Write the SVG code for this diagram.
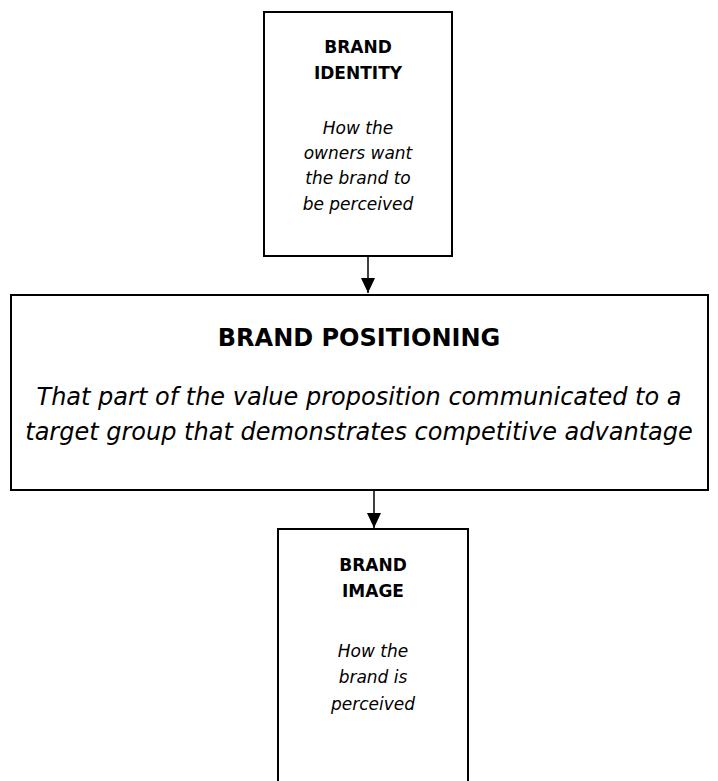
<svg xmlns="http://www.w3.org/2000/svg" width="718" height="781" viewBox="0 0 718 781">
<style>
.box{fill:#fff;stroke:#000;stroke-width:2}
.t{font-family:"DejaVu Sans",Verdana,sans-serif;font-size:17px;text-anchor:middle;fill:#000}
.l{font-size:24px}
.b{font-weight:bold}
.i{font-style:italic}
.c{stroke:#000;stroke-width:1.5;fill:none}
</style>
<defs>
<marker id="ah" markerWidth="15" markerHeight="14" refX="15" refY="7" orient="auto" markerUnits="userSpaceOnUse">
<path d="M0,0 L15,7 L0,14 Z" fill="#000"/>
</marker>
</defs>
<rect width="718" height="781" fill="#fff"/>
<g id="identity">
<rect class="box" x="264" y="12" width="188" height="244"/>
<text class="t b" x="358" y="53">BRAND</text>
<text class="t b" x="358" y="79">IDENTITY</text>
<text class="t i" x="358" y="134">How the</text>
<text class="t i" x="358" y="159">owners want</text>
<text class="t i" x="358" y="184">the brand to</text>
<text class="t i" x="358" y="210">be perceived</text>
</g>
<g id="positioning">
<rect class="box" x="11" y="295" width="697" height="195"/>
<text class="t l b" x="359" y="346">BRAND POSITIONING</text>
<text class="t l i" x="359" y="405">That part of the value proposition communicated to a</text>
<text class="t l i" x="359" y="440">target group that demonstrates competitive advantage</text>
</g>
<g id="image">
<path class="box" d="M278,790 V529 H468 V790"/>
<text class="t b" x="373" y="571">BRAND</text>
<text class="t b" x="373" y="597">IMAGE</text>
<text class="t i" x="373" y="657">How the</text>
<text class="t i" x="373" y="683">brand is</text>
<text class="t i" x="373" y="710">perceived</text>
</g>
<g id="connectors">
<line class="c" x1="368" y1="256" x2="368" y2="293" marker-end="url(#ah)"/>
<line class="c" x1="374" y1="490" x2="374" y2="528" marker-end="url(#ah)"/>
</g>
</svg>
